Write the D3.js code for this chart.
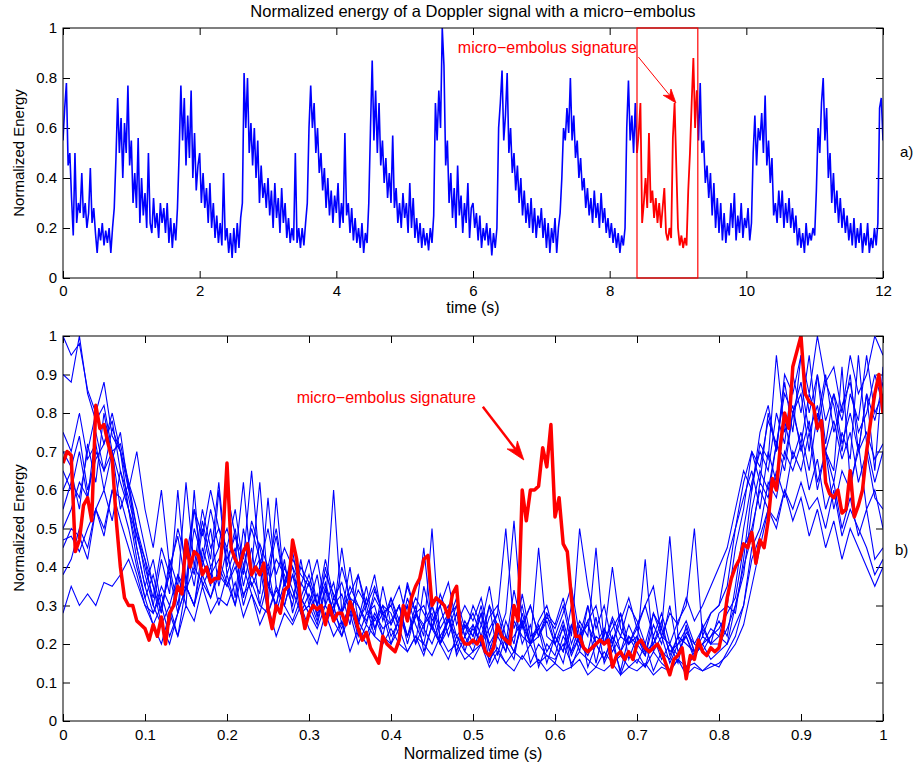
<!DOCTYPE html>
<html>
<head>
<meta charset="utf-8">
<script src="https://cdnjs.cloudflare.com/ajax/libs/d3/7.8.5/d3.min.js"></script>
<style>
  html, body { margin: 0; padding: 0; background: #fff; }
  svg { display: block; font-family: "Liberation Sans", Arial, Helvetica, sans-serif; }
</style>
</head>
<body>
<div id="chart"></div>
<script>
// ---- panel a) : 12 s of normalized energy, sampled every 0.025 s
var topStep = 0.025;
var topEnergy = [
  .55,.68,.78,.45,.5,.32,.17,.5,.22,.3,.26,.42,.24,.3,.2,.26,.44,.22,.28,.18,
  .1,.2,.15,.22,.13,.19,.14,.2,.1,.2,.28,.48,.72,.5,.64,.4,.62,.5,.77,.45,
  .55,.3,.42,.28,.56,.22,.4,.25,.34,.2,.5,.22,.18,.32,.2,.26,.16,.3,.22,.28,
  .18,.3,.14,.24,.12,.22,.15,.28,.5,.77,.55,.72,.45,.65,.48,.75,.4,.58,.35,.45,
  .5,.3,.42,.28,.36,.22,.38,.2,.3,.16,.25,.14,.22,.13,.42,.15,.2,.1,.18,.08,
  .2,.1,.22,.12,.24,.3,.82,.6,.8,.5,.62,.45,.6,.4,.55,.3,.45,.32,.38,.28,
  .4,.25,.35,.2,.38,.24,.32,.18,.36,.22,.3,.16,.24,.14,.2,.15,.5,.14,.2,.12,
  .2,.13,.22,.3,.6,.77,.6,.7,.5,.6,.42,.5,.35,.44,.28,.4,.25,.35,.22,.33,
  .26,.38,.2,.3,.22,.58,.25,.3,.18,.28,.15,.24,.14,.2,.12,.22,.1,.18,.14,.3,
  .6,.87,.55,.75,.5,.7,.45,.55,.38,.48,.32,.42,.3,.57,.28,.36,.22,.3,.2,.34,
  .24,.3,.18,.38,.2,.32,.16,.24,.14,.22,.12,.2,.13,.18,.11,.2,.14,.25,.7,.55,
  .75,.6,1.0,.85,.45,.55,.3,.42,.24,.36,.2,.45,.25,.33,.18,.3,.22,.38,.16,.28,
  .3,.2,.26,.15,.25,.12,.2,.15,.22,.13,.2,.09,.18,.12,.2,.6,.7,.83,.55,.65,
  .82,.5,.6,.42,.5,.35,.45,.3,.4,.25,.35,.22,.3,.2,.32,.18,.28,.16,.25,.2,
  .28,.16,.24,.12,.22,.1,.2,.14,.24,.1,.2,.26,.4,.6,.55,.68,.58,.8,.55,.65,
  .48,.55,.4,.48,.35,.4,.28,.36,.25,.32,.22,.35,.24,.3,.2,.34,.22,.28,.18,.24,
  .16,.22,.14,.2,.12,.18,.1,.17,.13,.2,.6,.79,.55,.65,.5,.7,.5,.58,.7,.22,
  .3,.4,.28,.58,.3,.35,.24,.32,.22,.3,.2,.28,.36,.18,.15,.2,.16,.56,.7,.45,
  .2,.13,.17,.12,.16,.13,.35,.5,.7,.88,.6,.75,.55,.78,.5,.55,.38,.45,.32,.42,
  .25,.38,.2,.32,.18,.3,.15,.26,.14,.22,.17,.3,.2,.34,.15,.25,.18,.3,.16,.24,
  .2,.28,.15,.22,.5,.65,.45,.6,.55,.66,.5,.73,.45,.55,.38,.48,.25,.3,.22,.35,
  .24,.35,.2,.3,.22,.32,.2,.28,.18,.25,.13,.2,.12,.18,.1,.22,.13,.18,.15,.2,
  .17,.35,.6,.5,.7,.8,.55,.68,.4,.5,.3,.42,.26,.35,.22,.32,.2,.28,.18,.25,
  .15,.22,.13,.24,.12,.2,.14,.22,.1,.18,.13,.22,.1,.16,.12,.2,.13,.22,.68,.72,
  .55
];
var embolusWindow = [8.4, 9.29];
var topXTicks = [0, 2, 4, 6, 8, 10, 12];
var topYTicks = [0, 0.2, 0.4, 0.6, 0.8, 1];

// ---- panel b) : superposed cardiac cycles on normalized time, every 0.01
var beatStep = 0.01;
var beatCycles = [
  [1.0,.95,.98,.86,.8,.88,.74,.7,.6,.5, .38,.3,.42,.33,.6,.36,.55,.4,.5,.35,
   .45,.32,.5,.38,.42,.3,.58,.35,.4,.3, .36,.27,.4,.3,.33,.25,.38,.28,.3,.22,
   .32,.24,.3,.2,.35,.26,.3,.22,.28,.18, .25,.2,.3,.17,.26,.2,.33,.22,.24,.15,
   .22,.18,.3,.2,.26,.15,.24,.2,.28,.16, .22,.17,.25,.2,.3,.18,.22,.16,.25,.2,
   .28,.3,.45,.55,.7,.62,.8,.7,.88,.75, .95,.8,.9,.72,.85,.78,.9,.7,.85,.65,.92],
  [.9,.88,1.0,.85,.78,.82,.7,.72,.62,.55, .45,.35,.28,.4,.3,.45,.38,.52,.42,.62,
   .4,.5,.35,.45,.3,.4,.28,.36,.3,.42, .3,.38,.25,.32,.28,.4,.26,.3,.22,.35,
   .25,.3,.2,.28,.22,.5,.2,.27,.18,.25, .2,.28,.15,.22,.18,.3,.2,.25,.14,.2,
   .17,.25,.14,.2,.18,.27,.15,.2,.13,.22, .18,.14,.22,.16,.2,.15,.25,.18,.2,.22,
   .26,.22,.35,.5,.62,.7,.65,.8,.72,.9, .8,.95,.75,.88,.82,.7,.85,.78,.95,.8,.85],
  [.7,.66,.74,.6,.68,.72,.8,.7,.62,.5, .42,.35,.25,.3,.22,.35,.3,.42,.35,.6,
   .38,.45,.32,.4,.62,.35,.3,.42,.28,.36, .32,.26,.35,.28,.45,.3,.25,.32,.24,.3,
   .28,.22,.32,.25,.2,.3,.24,.28,.2,.26, .22,.3,.18,.25,.2,.16,.28,.2,.22,.26,
   .2,.15,.25,.18,.3,.2,.16,.22,.18,.25, .2,.17,.28,.22,.15,.2,.24,.18,.22,.2,
   .22,.3,.28,.42,.6,.72,.68,.95,.75,.82, .7,.78,.62,.7,.55,.65,.6,.72,.55,.6,.5],
  [.6,.65,.55,.72,.62,.8,.68,.75,.6,.7, .55,.45,.6,.4,.48,.35,.5,.42,.55,.45,
   .6,.48,.42,.65,.4,.5,.38,.45,.4,.35, .42,.3,.36,.28,.4,.32,.3,.25,.34,.28,
   .3,.24,.36,.28,.25,.3,.22,.26,.32,.24, .28,.22,.3,.25,.2,.34,.24,.3,.22,.27,
   .24,.3,.2,.26,.22,.45,.2,.24,.28,.2, .25,.3,.22,.28,.2,.26,.3,.5,.22,.28,
   .3,.35,.5,.58,.65,.55,.7,.62,.78,.68, .75,.65,.8,.7,.62,.75,.68,.95,.72,.62,.7],
  [.5,.55,.62,.58,.7,.65,.76,.7,.55,.45, .35,.28,.33,.25,.38,.3,.6,.35,.4,.3,
   .38,.3,.45,.35,.4,.28,.35,.3,.38,.32, .28,.33,.25,.3,.22,.32,.26,.35,.24,.28,
   .2,.27,.22,.3,.18,.25,.2,.28,.17,.22, .18,.25,.2,.15,.22,.18,.26,.15,.2,.17,
   .15,.22,.18,.25,.14,.2,.16,.22,.12,.18, .15,.2,.13,.18,.16,.22,.14,.17,.2,.16,
   .18,.2,.25,.3,.45,.5,.62,.58,.7,.65, .72,.6,.68,.55,.62,.5,.58,.48,.55,.42,.45],
  [.47,.48,.44,.5,.55,.48,.6,.52,.45,.38, .3,.25,.2,.28,.22,.3,.26,.35,.28,.32,
   .3,.36,.27,.33,.25,.3,.22,.28,.25,.3, .24,.2,.28,.22,.26,.18,.24,.2,.27,.22,
   .2,.24,.18,.22,.17,.25,.2,.16,.22,.18, .16,.2,.14,.18,.15,.13,.17,.14,.16,.13,
   .15,.13,.14,.16,.12,.14,.13,.15,.12,.14, .13,.15,.12,.14,.13,.16,.12,.14,.13,.15,
   .14,.18,.22,.3,.42,.48,.55,.5,.6,.52, .58,.48,.55,.45,.52,.42,.5,.45,.4,.35,.4],
  [.38,.42,.5,.45,.55,.6,.52,.65,.58,.48, .4,.32,.45,.38,.5,.42,.55,.48,.6,.5,
   .45,.55,.4,.5,.42,.38,.48,.35,.44,.32, .38,.3,.42,.32,.36,.28,.34,.3,.38,.26,
   .32,.26,.35,.28,.3,.24,.33,.27,.3,.22, .3,.25,.35,.22,.28,.52,.25,.3,.22,.28,
   .25,.32,.22,.5,.35,.24,.3,.2,.26,.32, .24,.3,.35,.22,.28,.25,.32,.26,.3,.35,
   .4,.45,.55,.65,.6,.75,.82,.7,.9,.85, .95,.85,1.0,.88,.92,.8,.95,.85,.9,1.0,.95],
  [.28,.35,.3,.33,.3,.36,.35,.38,.42,.36, .3,.28,.35,.3,.38,.34,.4,.36,.32,.38,
   .35,.4,.33,.36,.3,.28,.34,.3,.26,.32, .28,.24,.3,.26,.22,.28,.2,.25,.22,.2,
   .24,.2,.18,.22,.2,.17,.22,.18,.2,.16, .18,.2,.16,.19,.15,.18,.16,.2,.15,.17,
   .16,.2,.15,.18,.16,.14,.18,.15,.17,.14, .16,.14,.18,.15,.13,.16,.14,.15,.13,.14,
   .15,.17,.2,.25,.35,.45,.55,.52,.6,.55, .62,.55,.58,.5,.6,.48,.55,.5,.45,.38,.42],
  [.65,.6,.7,.58,.75,.65,.7,.55,.62,.45, .35,.42,.3,.38,.28,.45,.35,.5,.4,.45,
   .5,.42,.62,.38,.46,.4,.5,.36,.42,.38, .35,.42,.3,.6,.28,.33,.38,.3,.35,.28,
   .3,.35,.26,.32,.28,.24,.3,.36,.25,.3, .26,.32,.22,.28,.5,.24,.3,.2,.26,.3,
   .22,.28,.35,.22,.26,.3,.2,.27,.22,.3, .26,.2,.28,.24,.48,.22,.26,.2,.24,.28,
   .3,.42,.5,.62,.7,.66,.78,.72,.85,.8, .88,.75,.82,.7,.78,.68,.75,.62,.7,.58,.55],
  [.55,.62,.58,.7,.8,.72,.78,.65,.55,.42, .32,.25,.3,.22,.28,.35,.3,.45,.38,.42,
   .36,.3,.4,.33,.28,.36,.3,.4,.34,.28, .3,.25,.34,.28,.24,.3,.26,.22,.28,.24,
   .26,.3,.22,.28,.24,.2,.26,.3,.22,.2, .24,.2,.27,.3,.22,.18,.25,.2,.45,.22,
   .2,.26,.18,.22,.3,.2,.24,.18,.22,.2, .24,.18,.2,.26,.17,.22,.2,.18,.24,.2,
   .2,.24,.3,.38,.55,.65,.6,.72,.68,.8, .72,.85,.78,.9,.75,.82,.88,.75,.8,.9,.82],
  [.45,.5,.48,.42,.55,.5,.6,.58,.5,.4, .32,.38,.28,.42,.35,.62,.4,.55,.45,.5,
   .42,.48,.38,.52,.45,.35,.42,.38,.32,.4, .36,.3,.38,.33,.28,.35,.3,.26,.32,.28,
   .25,.3,.22,.27,.45,.24,.2,.26,.22,.25, .22,.28,.2,.24,.18,.26,.22,.2,.25,.18,
   .22,.18,.25,.2,.17,.22,.2,.26,.18,.22, .2,.42,.18,.22,.2,.17,.23,.2,.18,.22,
   .24,.28,.32,.45,.5,.6,.55,.65,.58,.7, .65,.75,.6,.7,.65,.92,.62,.7,.75,.68,.72],
  [.75,.7,.8,.68,.72,.6,.7,.62,.55,.48, .42,.3,.25,.2,.28,.35,.3,.38,.32,.4,
   .35,.42,.3,.38,.33,.58,.35,.3,.38,.28, .33,.28,.3,.36,.25,.3,.22,.28,.26,.3,
   .22,.26,.3,.2,.25,.28,.2,.24,.3,.22, .25,.2,.24,.28,.2,.22,.26,.2,.24,.28,
   .2,.24,.17,.22,.25,.2,.22,.4,.24,.2, .22,.18,.2,.24,.18,.2,.22,.17,.2,.24,
   .22,.2,.3,.4,.48,.62,.58,.72,.65,.8, .85,.7,.9,.78,.85,.72,.8,.7,.85,.78,.88]
];

// the cycle that carries the micro-embolus, every 0.005
var embolusStep = 0.005;
var embolusCycle = [
  .67,.70,.69,.44,.47,.56,.58,.52,.82,.76, .77,.72,.68,.52,.40,.32,.30,.30,.26,.25,
  .24,.21,.25,.22,.27,.20,.28,.30,.35,.33, .47,.40,.44,.43,.38,.40,.36,.37,.37,.48,
  .67,.45,.42,.40,.44,.46,.38,.40,.38,.41, .29,.24,.30,.28,.34,.35,.47,.42,.30,.24,
  .28,.30,.29,.30,.25,.30,.26,.28,.28,.25, .31,.28,.24,.21,.23,.19,.17,.15,.22,.20,
  .19,.18,.21,.30,.26,.32,.35,.37,.42,.43, .30,.32,.31,.30,.27,.33,.35,.22,.20,.20,
  .21,.20,.22,.18,.17,.19,.25,.22,.21,.20, .30,.26,.60,.52,.60,.60,.61,.71,.66,.77,
  .53,.58,.46,.44,.32,.22,.22,.19,.18,.19, .20,.21,.20,.21,.14,.17,.18,.16,.18,.16,
  .20,.21,.19,.18,.19,.20,.18,.15,.12,.16, .17,.19,.11,.17,.16,.21,.18,.17,.19,.18,
  .19,.24,.32,.37,.40,.42,.46,.45,.49,.41, .47,.45,.52,.63,.60,.72,.80,.76,.92,.96,
  1.0,.85,.83,.82,.76,.78,.62,.59,.58,.60, .54,.55,.65,.53,.56,.60,.70,.78,.85,.90,
  .80
];
var beatXTicks = [0, 0.1, 0.2, 0.3, 0.4, 0.5, 0.6, 0.7, 0.8, 0.9, 1];
var beatYTicks = [0, 0.1, 0.2, 0.3, 0.4, 0.5, 0.6, 0.7, 0.8, 0.9, 1];

var blue = '#0000ff';
var red = '#ff0000';
var W = 918, H = 766;
var plotLeft = 63, plotWidth = 820;

var svg = d3.select('#chart').append('svg')
  .attr('width', W)
  .attr('height', H);

function panel(id, top, height, xDomain, yDomain, xTicks, yTicks, labelPad) {
  var g = svg.append('g').attr('transform', 'translate(' + plotLeft + ',' + top + ')');
  var x = d3.scaleLinear().domain(xDomain).range([0, plotWidth]);
  var y = d3.scaleLinear().domain(yDomain).range([height, 0]);
  var tick = 7;

  svg.append('clipPath').attr('id', id)
    .append('rect').attr('width', plotWidth).attr('height', height);

  function styleAxis(a) {
    a.select('.domain').remove();
    a.selectAll('line').attr('stroke', '#000');
    a.selectAll('text').attr('fill', '#000').style('font-size', '15px');
  }

  g.append('g').attr('transform', 'translate(0,' + height + ')')
    .call(d3.axisBottom(x).tickValues(xTicks).tickSize(-tick).tickPadding(labelPad)
      .tickFormat(function (d) { return String(d); }))
    .call(styleAxis);
  g.append('g')
    .call(d3.axisTop(x).tickValues(xTicks).tickSize(-tick).tickFormat(''))
    .call(styleAxis);
  g.append('g')
    .call(d3.axisLeft(y).tickValues(yTicks).tickSize(-tick).tickPadding(6)
      .tickFormat(function (d) { return String(d); }))
    .call(styleAxis);
  g.append('g').attr('transform', 'translate(' + plotWidth + ',0)')
    .call(d3.axisRight(y).tickValues(yTicks).tickSize(-tick).tickFormat(''))
    .call(styleAxis);

  var plot = g.append('g').attr('clip-path', 'url(#' + id + ')');

  g.append('rect')
    .attr('width', plotWidth).attr('height', height)
    .attr('fill', 'none').attr('stroke', '#000').attr('stroke-width', 1);

  return { g: g, plot: plot, x: x, y: y, height: height };
}

function arrow(g, x1, y1, x2, y2, color, width, headLen, headHalf) {
  var dx = x2 - x1, dy = y2 - y1;
  var len = Math.sqrt(dx * dx + dy * dy);
  var ux = dx / len, uy = dy / len;
  var bx = x2 - ux * headLen, by = y2 - uy * headLen;
  var nx = x2 - ux * headLen * 0.7, ny = y2 - uy * headLen * 0.7;
  g.append('line')
    .attr('x1', x1).attr('y1', y1).attr('x2', nx).attr('y2', ny)
    .attr('stroke', color).attr('stroke-width', width);
  g.append('path')
    .attr('d', 'M' + x2 + ',' + y2 +
      'L' + (bx - uy * headHalf) + ',' + (by + ux * headHalf) +
      'L' + nx + ',' + ny +
      'L' + (bx + uy * headHalf) + ',' + (by - ux * headHalf) + 'Z')
    .attr('fill', color).attr('stroke', color).attr('stroke-width', 0.8);
}

// title
svg.append('text')
  .attr('x', plotLeft + plotWidth / 2).attr('y', 17)
  .attr('text-anchor', 'middle')
  .style('font-size', '16.5px')
  .text('Normalized energy of a Doppler signal with a micro\u2212embolus');

// ---------- panel a)
var pa = panel('clipA', 28, 250, [0, 12], [0, 1], topXTicks, topYTicks, 7);

var i0 = Math.round(embolusWindow[0] / topStep);
var i1 = Math.floor(embolusWindow[1] / topStep);
var topLine = d3.line()
  .x(function (d) { return pa.x(d.t); })
  .y(function (d) { return pa.y(d.v); });
var topPts = topEnergy.map(function (v, i) { return { t: i * topStep, v: v }; });

pa.plot.append('path').datum(topPts.slice(0, i0 + 1))
  .attr('d', topLine).attr('fill', 'none').attr('stroke', blue).attr('stroke-width', 1.6);
pa.plot.append('path').datum(topPts.slice(i1))
  .attr('d', topLine).attr('fill', 'none').attr('stroke', blue).attr('stroke-width', 1.6);
pa.plot.append('path').datum(topPts.slice(i0, i1 + 1))
  .attr('d', topLine).attr('fill', 'none').attr('stroke', red).attr('stroke-width', 1.8);

pa.g.append('rect')
  .attr('x', pa.x(embolusWindow[0])).attr('y', 0)
  .attr('width', pa.x(embolusWindow[1]) - pa.x(embolusWindow[0]))
  .attr('height', pa.height)
  .attr('fill', 'none').attr('stroke', red).attr('stroke-width', 1.2);

pa.g.append('text')
  .attr('x', pa.x(8.4)).attr('y', pa.y(0.9))
  .attr('text-anchor', 'end').attr('fill', red)
  .style('font-size', '16px')
  .text('micro\u2212embolus signature');
arrow(pa.g, pa.x(8.42), pa.y(0.884), pa.x(8.97), pa.y(0.70), red, 1, 14, 5);

pa.g.append('text')
  .attr('x', plotWidth / 2).attr('y', 285)
  .attr('text-anchor', 'middle').style('font-size', '16px')
  .text('time (s)');
pa.g.append('text')
  .attr('transform', 'translate(-39,125) rotate(-90)')
  .attr('text-anchor', 'middle').style('font-size', '15px')
  .text('Normalized Energy');
pa.g.append('text')
  .attr('x', 837).attr('y', 129).style('font-size', '15px')
  .text('a)');

// ---------- panel b)
var pb = panel('clipB', 336, 385, [0, 1], [0, 1], beatXTicks, beatYTicks, 8);

var beatLine = d3.line()
  .x(function (d, i) { return pb.x(i * beatStep); })
  .y(function (d) { return pb.y(d); });

pb.plot.selectAll('path.cycle')
  .data(beatCycles)
  .enter().append('path')
  .attr('class', 'cycle')
  .attr('d', beatLine)
  .attr('fill', 'none')
  .attr('stroke', blue)
  .attr('stroke-width', 1.1);

pb.plot.append('path').datum(embolusCycle)
  .attr('d', d3.line()
    .x(function (d, i) { return pb.x(i * embolusStep); })
    .y(function (d) { return pb.y(d); }))
  .attr('fill', 'none')
  .attr('stroke', red)
  .attr('stroke-width', 3.5)
  .attr('stroke-linejoin', 'round');

pb.g.append('text')
  .attr('x', pb.x(0.285)).attr('y', pb.y(0.826))
  .attr('fill', red).style('font-size', '16px')
  .text('micro\u2212embolus signature');
arrow(pb.g, pb.x(0.512), pb.y(0.816), pb.x(0.562), pb.y(0.678), red, 2.5, 19, 6.5);

pb.g.append('text')
  .attr('x', plotWidth / 2).attr('y', 423)
  .attr('text-anchor', 'middle').style('font-size', '16px')
  .text('Normalized time (s)');
pb.g.append('text')
  .attr('transform', 'translate(-39,192) rotate(-90)')
  .attr('text-anchor', 'middle').style('font-size', '15px')
  .text('Normalized Energy');
pb.g.append('text')
  .attr('x', 832).attr('y', 219).style('font-size', '15px')
  .text('b)');
</script>
</body>
</html>
